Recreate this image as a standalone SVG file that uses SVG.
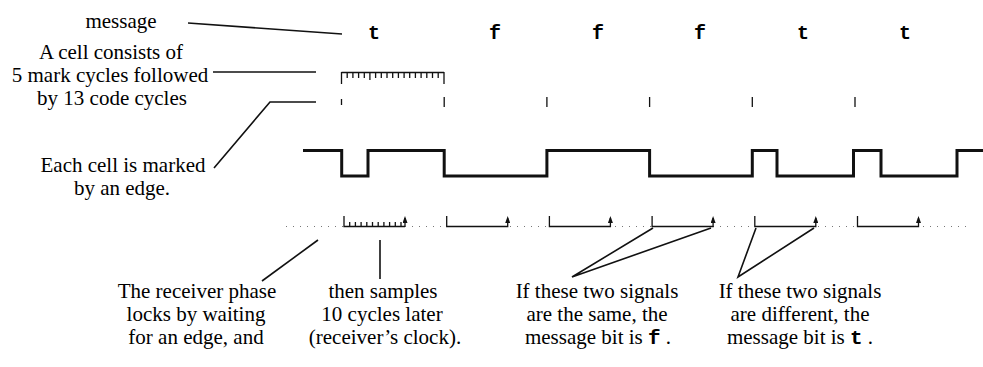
<svg xmlns="http://www.w3.org/2000/svg" width="983" height="367" viewBox="0 0 983 367">
<defs>
<style>
.lbl{font-family:"Liberation Serif","Times New Roman",serif;font-size:21px;fill:#000;text-anchor:middle}
.mono{font-family:"Liberation Mono","Courier New",monospace;font-weight:bold}
.bit{font-family:"Liberation Mono","Courier New",monospace;font-weight:bold;font-size:20px;fill:#000;text-anchor:middle}
.ln{stroke:#111;stroke-width:1.6;fill:none}
.thin{stroke:#111;stroke-width:1.3;fill:none}
.wave{stroke:#111;stroke-width:3;fill:none}
.dots{stroke:#777;stroke-width:1;stroke-dasharray:1 6;fill:none}
</style>
<marker id="arr" viewBox="0 0 7 5" refX="5" refY="2.5" markerWidth="7" markerHeight="5" orient="auto" markerUnits="userSpaceOnUse">
<path d="M0,0 L7,2.5 L0,5 Z" fill="#111"/>
</marker>
</defs>
<rect width="983" height="367" fill="#fff"/>

<g id="message-label"><text class="lbl" x="121" y="28">message</text></g>
<g id="message-bits">
<text class="bit" x="374" y="39">t</text>
<text class="bit" x="495" y="39">f</text>
<text class="bit" x="598" y="39">f</text>
<text class="bit" x="700" y="39">f</text>
<text class="bit" x="803" y="39">t</text>
<text class="bit" x="905" y="39">t</text>
</g>
<g id="cell-label">
<text class="lbl" x="111" y="59">A cell consists of</text>
<text class="lbl" x="110" y="82">5 mark cycles followed</text>
<text class="lbl" x="112" y="105">by 13 code cycles</text>
</g>
<g id="cell-ruler">
<path class="thin" d="M341.5,72.5 H444 M341.5,72 V84 M444,72 V84 M369.9,72 V80
M347.2,72 V78 M352.9,72 V78 M358.6,72 V78 M364.3,72 V78 M375.6,72 V78 M381.3,72 V78 M387,72 V78 M392.7,72 V78 M398.4,72 V78 M404.1,72 V78 M409.7,72 V78 M415.4,72 V78 M421.1,72 V78 M426.8,72 V78 M432.5,72 V78 M438.2,72 V78"/>
</g>
<g id="cell-ticks">
<path class="thin" d="M341.5,99 V105 M444.2,97 V107 M546.9,97 V107 M649.6,97 V107 M752.3,97 V107 M855,97 V107"/>
</g>
<g id="edge-label">
<text class="lbl" x="123" y="172">Each cell is marked</text>
<text class="lbl" x="122" y="195">by an edge.</text>
</g>
<g id="signal">
<path class="wave" d="M303,150.5 H341.7 V176 H368 V150.5 H444.2 V176 H546.9 V150.5 H649.6 V176 H752.3 V150.5 H777 V176 H853.5 V150.5 H881 V176 H957 V150.5 H983"/>
</g>
<g id="samples">
<path class="dots" d="M286,226.5 H970"/>
<path class="thin" d="M344,216 V226.5 H405 M349.7,226.5 V222 M355.4,226.5 V222 M361.1,226.5 V222 M366.8,226.5 V222 M372.5,226.5 V222 M378.2,226.5 V222 M383.9,226.5 V222 M389.6,226.5 V222 M395.3,226.5 V222 M401,226.5 V222"/>
<path class="thin" d="M405,226.5 V218" marker-end="url(#arr)"/>
<path class="thin" d="M446.7,216 V226.5 H507.7 V218" marker-end="url(#arr)"/>
<path class="thin" d="M549.4,216 V226.5 H610.4 V218" marker-end="url(#arr)"/>
<path class="thin" d="M652.1,216 V226.5 H713.1 V218" marker-end="url(#arr)"/>
<path class="thin" d="M754.8,216 V226.5 H815.8 V218" marker-end="url(#arr)"/>
<path class="thin" d="M857.5,216 V226.5 H918.5 V218" marker-end="url(#arr)"/>
</g>
<g id="phase-label">
<text class="lbl" x="197" y="298">The receiver phase</text>
<text class="lbl" x="196" y="321">locks by waiting</text>
<text class="lbl" x="196" y="344">for an edge, and</text>
</g>
<g id="sample-label">
<text class="lbl" x="383" y="298">then samples</text>
<text class="lbl" x="382" y="321">10 cycles later</text>
<text class="lbl" x="385" y="344">(receiver’s clock).</text>
</g>
<g id="same-label">
<text class="lbl" x="597" y="298">If these two signals</text>
<text class="lbl" x="597" y="321">are the same, the</text>
<text class="lbl" x="598" y="344">message bit is <tspan class="mono">f</tspan> .</text>
</g>
<g id="diff-label">
<text class="lbl" x="800" y="298">If these two signals</text>
<text class="lbl" x="800" y="321">are different, the</text>
<text class="lbl" x="800" y="344">message bit is <tspan class="mono">t</tspan> .</text>
</g>
<g id="connectors">
<path class="ln" d="M188,23 L342,34"/>
<path class="ln" d="M213,72 H316"/>
<path class="ln" d="M214,168 L270,102 H316"/>
<path class="ln" d="M262,281 L318,240"/>
<path class="ln" d="M380,240 V279"/>
<path class="ln" d="M653,228 L572,277 L711,228"/>
<path class="ln" d="M756,228 L738,277 L814,228"/>
</g>
</svg>
